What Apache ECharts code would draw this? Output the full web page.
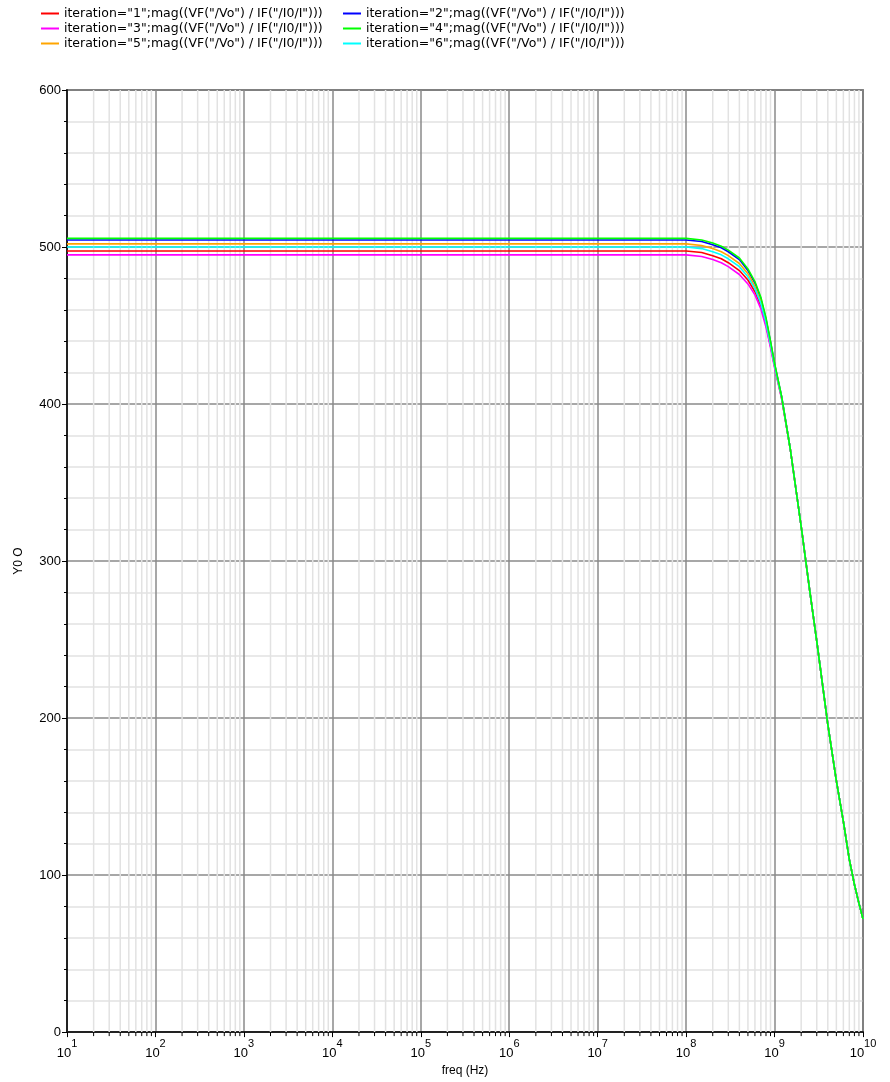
<!DOCTYPE html>
<html>
<head>
<meta charset="utf-8">
<script src="https://cdn.jsdelivr.net/npm/echarts@6/dist/echarts.min.js"></script>
<style>
html,body{margin:0;padding:0;background:#fff;}
#chart{width:890px;height:1082px;}
</style>
</head>
<body>
<div id="chart"></div>
<script>
// Frequencies (Hz) at which the curves were read
const freqs = [10, 1e7, 1e8, 1.5e8, 2e8, 2.5e8, 3e8, 4e8, 5e8, 6e8, 7e8, 8e8, 9e8, 1e9, 1.2e9, 1.5e9, 2e9, 2.5e9, 3e9, 4e9, 5e9, 6e9, 7e9, 8e9, 9e9, 1e10];

const iter1 = [497.5, 497.5, 497.5, 496.5, 494.5, 492.5, 490, 485, 479, 471.5, 462.5, 450.5, 437, 424, 404, 372, 322, 281, 249, 196, 160, 134, 110, 94, 82, 72];
const iter2 = [504.5, 504.5, 504.5, 503.5, 501.5, 499.5, 497, 492, 485, 477, 467, 454, 439.5, 425.5, 405, 372, 322, 281, 249, 196, 160, 134, 110, 94, 82, 72];
const iter3 = [495, 495, 495, 494, 492, 490, 487.5, 482.5, 476.5, 469.5, 460.5, 449, 436, 423, 403.5, 372, 322, 281, 249, 196, 160, 134, 110, 94, 82, 72];
const iter4 = [505.5, 505.5, 505.5, 504.5, 502.5, 500.5, 498, 493, 486, 478, 468, 455, 440, 426, 405, 372, 322, 281, 249, 196, 160, 134, 110, 94, 82, 72];
const iter5 = [502, 502, 502, 501, 499, 497, 494.5, 489.5, 483, 475, 465.5, 453, 438.5, 425, 404.5, 372, 322, 281, 249, 196, 160, 134, 110, 94, 82, 72];
const iter6 = [500, 500, 500, 499, 497, 495, 492.5, 487.5, 481, 473.5, 464, 452, 438, 424.5, 404.5, 372, 322, 281, 249, 196, 160, 134, 110, 94, 82, 72];

const seriesNames = [
  'iteration="1";mag((VF("/Vo") / IF("/I0/I")))',
  'iteration="2";mag((VF("/Vo") / IF("/I0/I")))',
  'iteration="3";mag((VF("/Vo") / IF("/I0/I")))',
  'iteration="4";mag((VF("/Vo") / IF("/I0/I")))',
  'iteration="5";mag((VF("/Vo") / IF("/I0/I")))',
  'iteration="6";mag((VF("/Vo") / IF("/I0/I")))'
];
const seriesColors = ['#ff0000', '#0000ff', '#ff00ff', '#00ff00', '#ffa500', '#00ffff'];
const seriesValues = [iter1, iter2, iter3, iter4, iter5, iter6];

// Minor log gridline positions (2..9 x 10^n)
const minorFreqs = [];
for (let e = 1; e < 10; e++) {
  for (let k = 2; k <= 9; k++) minorFreqs.push(k * Math.pow(10, e));
}

const yTicks = [0, 100, 200, 300, 400, 500, 600];

const chart = echarts.init(document.getElementById('chart'), null, {renderer: 'canvas'});

const lineSeries = seriesNames.map((name, si) => ({
  name: name,
  type: 'line',
  data: freqs.map((f, i) => [f, seriesValues[si][i]]),
  symbol: 'none',
  smooth: false,
  lineStyle: {color: seriesColors[si], width: 1.6},
  itemStyle: {color: seriesColors[si]},
  z: si === 3 ? 10 : 3 + si,
  animation: false
}));

const minorSeries = {
  name: 'minor',
  type: 'custom',
  data: minorFreqs.map(f => [f, 0]),
  clip: false,
  silent: true,
  z: 1,
  animation: false,
  encode: {x: 0, y: 1},
  renderItem: function (params, api) {
    const f = api.value(0);
    const pb = api.coord([f, 0]);
    const pt = api.coord([f, 600]);
    return {
      type: 'group',
      children: [
        {type: 'line', shape: {x1: pb[0], y1: pt[1], x2: pb[0], y2: pb[1]}, style: {stroke: '#e2e2e2', lineWidth: 1.5}},
        {type: 'line', shape: {x1: pb[0], y1: pb[1], x2: pb[0], y2: pb[1] + 4}, style: {stroke: '#000', lineWidth: 1}}
      ]
    };
  }
};

const legendText = {fontFamily: 'DejaVu Sans', fontSize: 12.5, color: '#000'};

chart.setOption({
  animation: false,
  backgroundColor: '#fff',
  legend: [
    {
      data: [seriesNames[0], seriesNames[2], seriesNames[4]],
      orient: 'vertical', left: 36, top: 2, itemGap: 2,
      icon: 'rect', itemWidth: 18, itemHeight: 2,
      textStyle: legendText, selectedMode: false
    },
    {
      data: [seriesNames[1], seriesNames[3], seriesNames[5]],
      orient: 'vertical', left: 338, top: 2, itemGap: 2,
      icon: 'rect', itemWidth: 18, itemHeight: 2,
      textStyle: legendText, selectedMode: false
    }
  ],
  grid: {left: 67, right: 27, top: 90, bottom: 49, show: true, borderColor: '#333', borderWidth: 1.5, backgroundColor: '#fff'},
  xAxis: {
    type: 'log', logBase: 10, min: 10, max: 1e10,
    name: 'freq (Hz)', nameLocation: 'middle', nameGap: 30,
    nameTextStyle: {fontFamily: 'Liberation Sans', fontSize: 12, color: '#000'},
    axisLine: {show: true, lineStyle: {color: '#222', width: 2}},
    axisTick: {show: true, inside: false, length: 5, lineStyle: {color: '#000'}},
    splitLine: {show: true, lineStyle: {color: '#8a8a8a', width: 1.5}},
    axisLabel: {
      margin: 6,
      formatter: function (v) {
        const n = Math.round(Math.log10(v));
        return '{b|10}{s|' + n + '}';
      },
      rich: {
        b: {fontFamily: 'Liberation Sans', fontSize: 13, color: '#000', lineHeight: 22, verticalAlign: 'bottom'},
        s: {fontFamily: 'Liberation Sans', fontSize: 11, color: '#000', lineHeight: 22, verticalAlign: 'top'}
      }
    }
  },
  yAxis: {
    type: 'value', min: 0, max: 600, interval: 100,
    name: 'Y0 O', nameLocation: 'middle', nameGap: 42, nameRotate: 90,
    nameTextStyle: {fontFamily: 'Liberation Sans', fontSize: 12, color: '#000'},
    axisLine: {show: true, lineStyle: {color: '#222', width: 2}},
    axisTick: {show: true, length: 5, lineStyle: {color: '#000'}},
    minorTick: {show: true, splitNumber: 5, length: 3, lineStyle: {color: '#000'}},
    splitLine: {show: true, lineStyle: {color: '#8a8a8a', width: 1.5}},
    minorSplitLine: {show: true, lineStyle: {color: '#e2e2e2', width: 1.5}},
    axisLabel: {
      margin: 6,
      fontFamily: 'Liberation Sans', fontSize: 13, color: '#000',
      formatter: function (v) { return yTicks.indexOf(v) >= 0 ? String(v) : ''; }
    }
  },
  series: [minorSeries].concat(lineSeries)
});
</script>
</body>
</html>
